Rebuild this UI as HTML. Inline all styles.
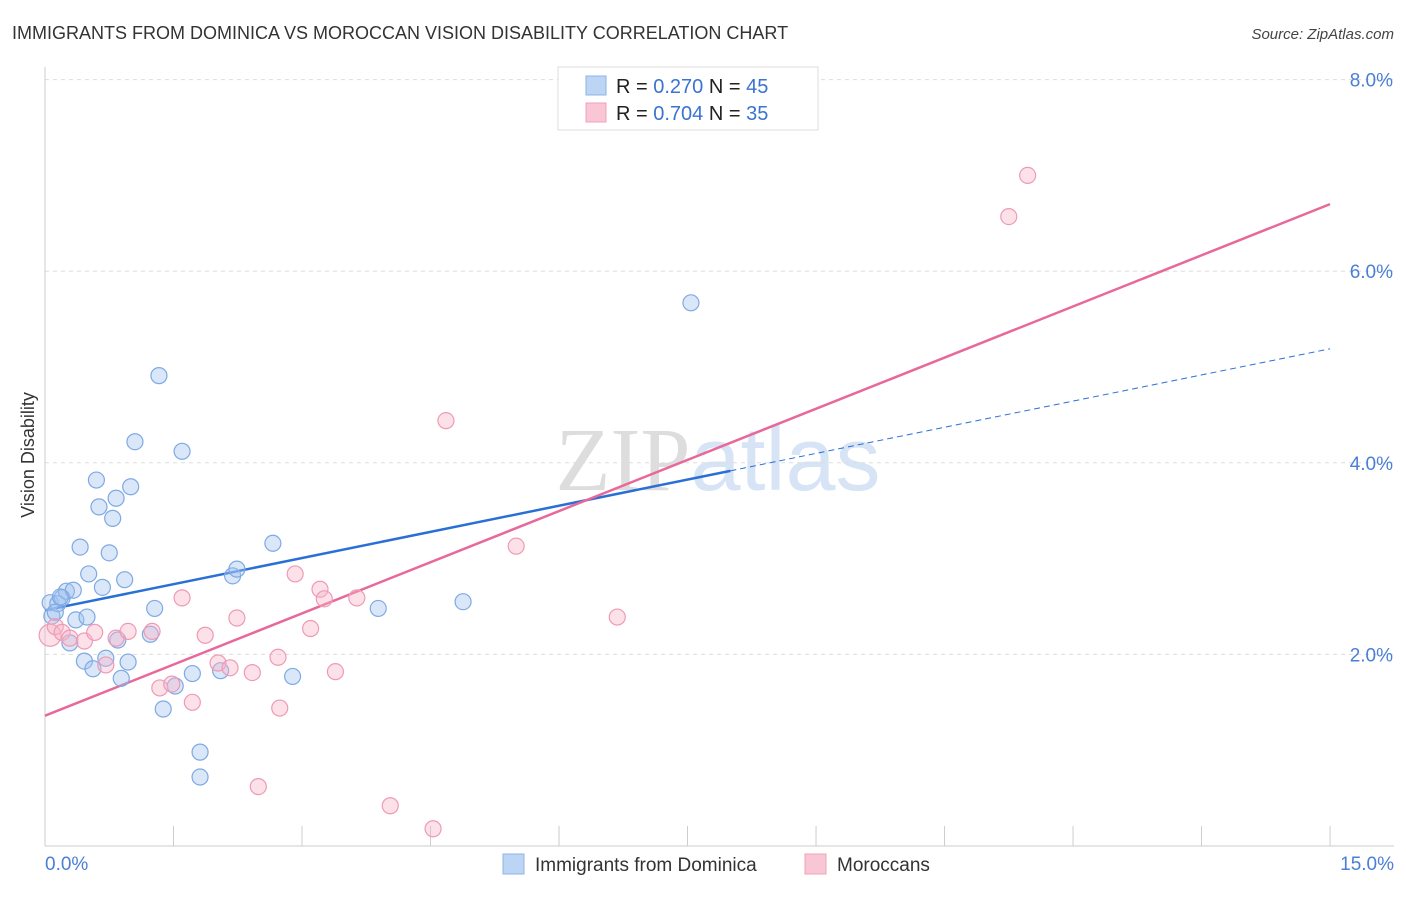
<!DOCTYPE html>
<html><head><meta charset="utf-8"><style>
body{margin:0;background:#fff;font-family:"Liberation Sans",sans-serif;}
svg text{font-family:"Liberation Sans",sans-serif;}
</style></head><body>
<svg id="chart" width="1406" height="892" xmlns="http://www.w3.org/2000/svg">
<text x="12" y="39" font-size="18" fill="#333">IMMIGRANTS FROM DOMINICA VS MOROCCAN VISION DISABILITY CORRELATION CHART</text>
<text x="1394" y="39" font-size="15" fill="#444" text-anchor="end" font-style="italic">Source: ZipAtlas.com</text>
<text x="718" y="490" font-size="90" text-anchor="middle"><tspan fill="#ddd" font-family="Liberation Serif">ZIP</tspan><tspan fill="#d6e4f5">atlas</tspan></text>
<text transform="translate(34,455) rotate(-90)" font-size="18" fill="#333" text-anchor="middle">Vision Disability</text>
<g id="grid"></g><g id="axes"></g><g id="trend"></g><g id="pts"></g>
<g>
<rect x="558" y="67" width="260" height="63" fill="#fff" stroke="#ddd"/>
<rect x="586" y="76" width="20" height="19" fill="#bcd5f5" stroke="#8db4e8"/>
<rect x="586" y="103" width="20" height="19" fill="#f9c6d5" stroke="#f0a0bb"/>
<text x="616" y="93" font-size="20" fill="#222">R = <tspan fill="#3a73d1">0.270</tspan>   N = <tspan fill="#3a73d1">45</tspan></text>
<text x="616" y="120" font-size="20" fill="#222">R = <tspan fill="#3a73d1">0.704</tspan>   N = <tspan fill="#3a73d1">35</tspan></text>
</g>
<g>
<rect x="503" y="854" width="21" height="20" fill="#bcd5f5" stroke="#8db4e8"/>
<text x="535" y="871" font-size="19" fill="#333">Immigrants from Dominica</text>
<rect x="805" y="854" width="21" height="20" fill="#f9c6d5" stroke="#f0a0bb"/>
<text x="837" y="871" font-size="19" fill="#333">Moroccans</text>
</g>
</svg>
<script>
const blueX=[0.06,0.08,0.15,0.20,0.25,0.33,0.18,0.12,0.29,0.36,0.41,0.49,0.46,0.51,0.56,0.60,0.63,0.67,0.71,0.75,0.79,0.83,0.85,0.89,0.93,0.97,1.00,1.05,1.23,1.28,1.33,1.38,1.52,1.60,1.72,1.81,1.81,2.05,2.19,2.24,2.66,2.89,3.89,4.88,7.54];
const blueY=[2.54,2.40,2.53,2.59,2.66,2.67,2.60,2.44,2.12,2.36,3.12,2.39,1.93,2.84,1.85,3.82,3.54,2.70,1.96,3.06,3.42,3.63,2.15,1.75,2.78,1.92,3.75,4.22,2.21,2.48,4.91,1.43,1.67,4.12,1.80,0.98,0.72,1.83,2.82,2.89,3.16,1.77,2.48,2.55,5.67];
const pinkX=[0.06,0.12,0.20,0.29,0.46,0.58,0.71,0.83,0.97,1.25,1.34,1.48,1.60,1.72,1.87,2.02,2.16,2.24,2.42,2.49,2.72,2.74,2.92,3.10,3.21,3.26,3.39,3.64,4.03,4.53,4.68,5.50,6.68,11.25,11.47];
const pinkY=[2.20,2.29,2.23,2.17,2.14,2.23,1.89,2.17,2.24,2.24,1.65,1.69,2.59,1.50,2.20,1.91,1.86,2.38,1.81,0.62,1.97,1.44,2.84,2.27,2.68,2.58,1.82,2.59,0.42,0.18,4.44,3.13,2.39,6.57,7.00];
const blueTrend=[2.46,5.19];
const pinkTrend=[1.36,6.70];
const yTicks=[2,4,6,8];
const yTickLabels=["2.0%","4.0%","6.0%","8.0%"];
const NS="http://www.w3.org/2000/svg";
const sx=v=>45+v*85.67, sy=v=>846-v*95.8;
function mk(tag,attrs,parent){const e=document.createElementNS(NS,tag);for(const k in attrs)e.setAttribute(k,attrs[k]);document.getElementById(parent).appendChild(e);return e;}
yTicks.forEach((t,i)=>{
 const g=mk('line',{x1:45,x2:1394,y1:sy(t),y2:sy(t),stroke:'#ddd','stroke-dasharray':'4,4'},'grid');
 
 
 const l=mk('text',{x:1393,y:sy(t)+7,'font-size':19,fill:'#4a7fd4','text-anchor':'end'},'grid');
 l.textContent=yTickLabels[i];
 
 
});
const ya=mk('line',{x1:45,x2:45,y1:67,y2:846,stroke:'#ccc'},'axes');


const xa=mk('line',{x1:45,x2:1394,y1:846,y2:846,stroke:'#ccc'},'axes');


for(let i=1;i<=10;i++){const t=mk('line',{x1:sx(i*1.5),x2:sx(i*1.5),y1:826,y2:846,stroke:'#ccc'},'axes');
 
 }
[[0,"0.0%",'start',45],[15,"15.0%",'end',1394]].forEach(a=>{const t=mk('text',{x:a[3],y:870,'font-size':19,fill:'#4a7fd4','text-anchor':a[2]},'axes');t.textContent=a[1];
 
 });
const bs=mk('line',{x1:sx(0),y1:sy(blueTrend[0]),x2:sx(8),y2:sy(blueTrend[0]+(blueTrend[1]-blueTrend[0])*8/15),stroke:'#2a6fd6','stroke-width':2.5},'trend');


const bd=mk('line',{x1:sx(8),y1:sy(blueTrend[0]+(blueTrend[1]-blueTrend[0])*8/15),x2:sx(15),y2:sy(blueTrend[1]),stroke:'#2a6fd6','stroke-width':1,'stroke-dasharray':'6,4'},'trend');


const pt=mk('line',{x1:sx(0),y1:sy(pinkTrend[0]),x2:sx(15),y2:sy(pinkTrend[1]),stroke:'#e8689a','stroke-width':2.5},'trend');


blueX.forEach((x,i)=>{const c=mk('circle',{cx:sx(x),cy:sy(blueY[i]),r:8,fill:'rgba(160,196,240,0.4)',stroke:'#7fa9e3','stroke-width':1.2},'pts');
 
 });
pinkX.forEach((x,i)=>{const c=mk('circle',{cx:sx(x),cy:sy(pinkY[i]),r:i==0?11:8,fill:'rgba(248,180,200,0.4)',stroke:'#ee9ab6','stroke-width':1.2},'pts');
 
 });
</script>
</body></html>
